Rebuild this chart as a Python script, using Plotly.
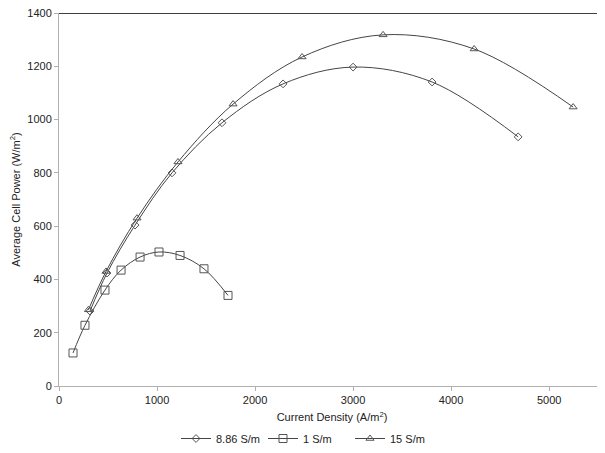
import plotly.graph_objects as go

x_886 = [316, 490, 776, 1153, 1663, 2286, 3000, 3806, 4684]
y_886 = [281, 424, 604, 800, 988, 1134, 1197, 1141, 935]

x_1 = [143, 265, 469, 633, 827, 1020, 1235, 1479, 1724]
y_1 = [124, 228, 360, 435, 484, 503, 490, 440, 340]

x_15 = [300, 480, 796, 1214, 1776, 2480, 3306, 4235, 5245]
y_15 = [286, 430, 630, 841, 1058, 1235, 1318, 1265, 1047]

x_ticks = [0, 1000, 2000, 3000, 4000, 5000]
y_ticks = [0, 200, 400, 600, 800, 1000, 1200, 1400]

line_col = "#454545"
mk_col = "#555555"

fig = go.Figure()
series = [
    ("8.86 S/m", x_886, y_886, "diamond-open", 6),
    ("1 S/m", x_1, y_1, "square-open", 8),
    ("15 S/m", x_15, y_15, "triangle-up-open", 7),
]
for name, xs, ys, sym, sz in series:
    fig.add_trace(go.Scatter(
        x=xs, y=ys, name=name, mode="lines+markers",
        line=dict(color=line_col, width=1, shape="spline", smoothing=1.0),
        marker=dict(symbol=sym, size=sz, color=mk_col, line=dict(color=mk_col, width=1)),
    ))

fig.add_shape(type="line", xref="paper", yref="y", x0=0, x1=1, y0=1400, y1=1400,
              line=dict(color="black", width=1.3))

fig.update_layout(
    width=597, height=445,
    margin=dict(l=51, r=0, t=5, b=67, autoexpand=False),
    paper_bgcolor="white", plot_bgcolor="white",
    font=dict(family="Liberation Sans, Arial, sans-serif", size=11, color="#222222"),
    showlegend=True,
    legend=dict(orientation="h", xref="container", x=0.5, xanchor="center",
                yref="container", y=0.0, yanchor="bottom",
                font=dict(size=11), itemwidth=30, tracegroupgap=0,
                entrywidth=42, entrywidthmode="pixels"),
)
fig.update_xaxes(
    range=[0, 5570], tickvals=x_ticks, showgrid=False, zeroline=False,
    showline=True, linecolor="#b0b0b0", linewidth=1, automargin=False,
    ticks="outside", ticklen=4, tickcolor="#b0b0b0", ticklabeloverflow="allow",
    title=dict(text="Current Density (A/m<sup>2</sup>)", standoff=8, font=dict(size=11)),
)
fig.update_yaxes(
    range=[0, 1400], tickvals=y_ticks, showgrid=False, zeroline=False,
    showline=True, linecolor="#b0b0b0", linewidth=1, automargin=False,
    ticks="outside", ticklen=4, tickcolor="#b0b0b0", ticklabeloverflow="allow",
    title=dict(text="Average Cell Power (W/m<sup>2</sup>)", standoff=8, font=dict(size=11)),
)

fig.write_html("out.html")
